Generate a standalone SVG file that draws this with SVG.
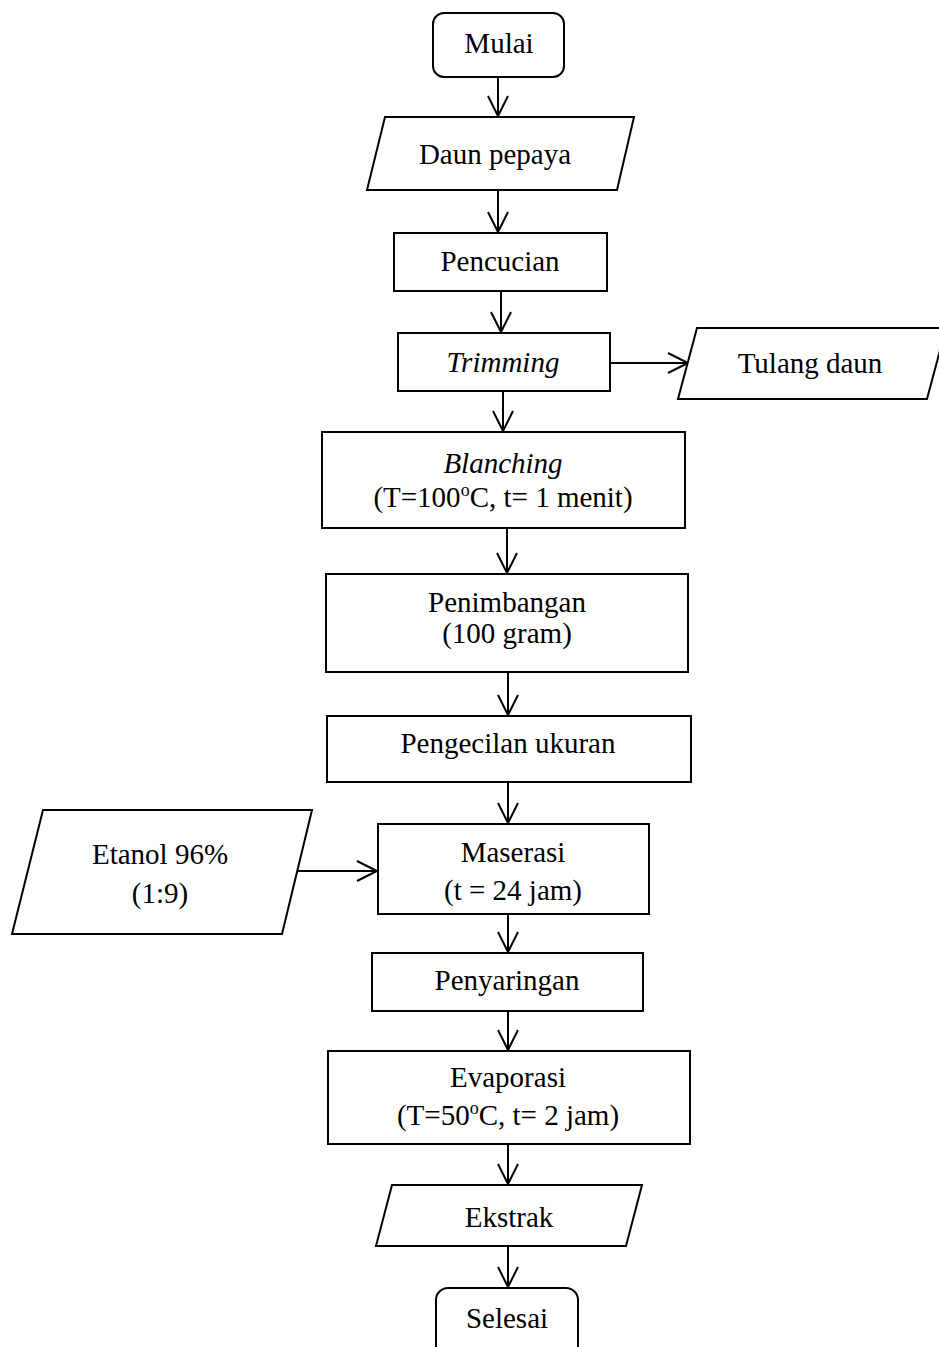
<svg xmlns="http://www.w3.org/2000/svg" width="939" height="1347" viewBox="0 0 939 1347">
<style>
.s{fill:#fff;stroke:#000;stroke-width:2}
.t{font-family:"Liberation Serif","Times New Roman",serif;font-size:29px;fill:#000;text-anchor:middle}
.i{font-style:italic}
.c{fill:none;stroke:#000;stroke-width:2}
</style>
<defs>
<marker id="ah" markerUnits="userSpaceOnUse" markerWidth="30" markerHeight="30" viewBox="-24 -15 30 30" refX="0" refY="0" orient="auto" overflow="visible">
<path d="M-20,-10 L0,0 L-20,10" fill="none" stroke="#000" stroke-width="2"/>
</marker>
</defs>
<rect width="939" height="1347" fill="#fff"/>
<g id="connectors" class="c" marker-end="url(#ah)">
<line x1="498" y1="77" x2="498" y2="116"/>
<line x1="498" y1="190" x2="498" y2="232"/>
<line x1="501" y1="291" x2="501" y2="332"/>
<line x1="610" y1="363" x2="688" y2="363"/>
<line x1="503" y1="391" x2="503" y2="431"/>
<line x1="507" y1="528" x2="507" y2="573"/>
<line x1="508" y1="672" x2="508" y2="715"/>
<line x1="508" y1="782" x2="508" y2="823"/>
<line x1="298" y1="871" x2="377" y2="871"/>
<line x1="508" y1="912" x2="508" y2="952"/>
<line x1="508" y1="1011" x2="508" y2="1050"/>
<line x1="508" y1="1144" x2="508" y2="1184"/>
<line x1="508" y1="1246" x2="508" y2="1287"/>
</g>
<g id="mulai">
<rect class="s" x="433" y="13" width="131" height="64" rx="11"/>
<text class="t" x="499" y="53">Mulai</text>
</g>
<g id="daun-pepaya">
<polygon class="s" points="385,117 634,117 617,190 367,190"/>
<text class="t" x="495" y="164">Daun pepaya</text>
</g>
<g id="pencucian">
<rect class="s" x="394" y="233" width="213" height="58"/>
<text class="t" x="500" y="271">Pencucian</text>
</g>
<g id="trimming">
<rect class="s" x="398" y="333" width="212" height="58"/>
<text class="t i" x="503" y="372">Trimming</text>
</g>
<g id="tulang-daun">
<polygon class="s" points="697,328 946,328 927,399 678,399"/>
<text class="t" x="810" y="373">Tulang daun</text>
</g>
<g id="blanching">
<rect class="s" x="322" y="432" width="363" height="96"/>
<text class="t i" x="503" y="473">Blanching</text>
<text class="t" x="503" y="507">(T=100<tspan font-size="18" dy="-11">o</tspan><tspan dy="11">C, t= 1 menit)</tspan></text>
</g>
<g id="penimbangan">
<rect class="s" x="326" y="574" width="362" height="98"/>
<text class="t" x="507" y="612">Penimbangan</text>
<text class="t" x="507" y="643">(100 gram)</text>
</g>
<g id="pengecilan">
<rect class="s" x="327" y="716" width="364" height="66"/>
<text class="t" x="508" y="753">Pengecilan ukuran</text>
</g>
<g id="etanol">
<polygon class="s" points="43,810 312,810 282,934 12,934"/>
<text class="t" x="160" y="864">Etanol 96%</text>
<text class="t" x="160" y="903">(1:9)</text>
</g>
<g id="maserasi">
<rect class="s" x="378" y="824" width="271" height="90"/>
<text class="t" x="513" y="862">Maserasi</text>
<text class="t" x="513" y="900">(t = 24 jam)</text>
</g>
<g id="penyaringan">
<rect class="s" x="372" y="953" width="271" height="58"/>
<text class="t" x="507" y="990">Penyaringan</text>
</g>
<g id="evaporasi">
<rect class="s" x="328" y="1051" width="362" height="93"/>
<text class="t" x="508" y="1087">Evaporasi</text>
<text class="t" x="508" y="1125">(T=50<tspan font-size="18" dy="-11">o</tspan><tspan dy="11">C, t= 2 jam)</tspan></text>
</g>
<g id="ekstrak">
<polygon class="s" points="392,1185 642,1185 626,1246 376,1246"/>
<text class="t" x="509" y="1227">Ekstrak</text>
</g>
<g id="selesai">
<rect class="s" x="436" y="1288" width="142" height="80" rx="12"/>
<text class="t" x="507" y="1328">Selesai</text>
</g>
</svg>
